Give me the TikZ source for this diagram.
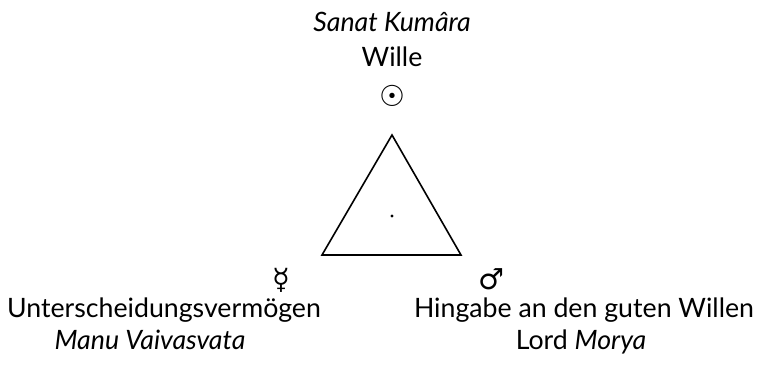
\documentclass[tikz,border=0pt]{standalone}
\usepackage{fontspec}
\setmainfont{Lato}
\newfontfamily\symfont{DejaVu Sans}
\begin{document}
\begin{tikzpicture}[x=1pt,y=-1pt,
  lbl/.style={inner sep=0pt,anchor=base,font=\fontsize{26.7}{30}\selectfont},
  sym/.style={inner sep=0pt,font=\symfont\fontsize{29}{33}\selectfont}]
\useasboundingbox (0,0) rectangle (764,374);
\coordinate (top) at (392,135);
\coordinate (bl) at (322,255);
\coordinate (br) at (461,255);
\draw[line width=1.6pt,line join=miter] (top) -- (bl) -- (br) -- cycle;
\fill (392,216) circle (1.6);
\node[lbl] (sk) at (392,32) {\itshape Sanat Kumâra};
\node[lbl] (wi) at (392,67) {Wille};
\node[sym] (sun) at (392,96) {☉};
\node[sym] (mer) at (281,280) {☿};
\node[sym] (mar) at (491,279) {♂};
\node[lbl] (un) at (164,318) {Unterscheidungsvermögen};
\node[lbl] (mv) at (150,350) {\itshape Manu Vaivasvata};
\node[lbl] (hg) at (584,318) {Hingabe an den guten Willen};
\node[lbl] (lm) at (581,350) {Lord \itshape Morya};
\end{tikzpicture}
\end{document}
